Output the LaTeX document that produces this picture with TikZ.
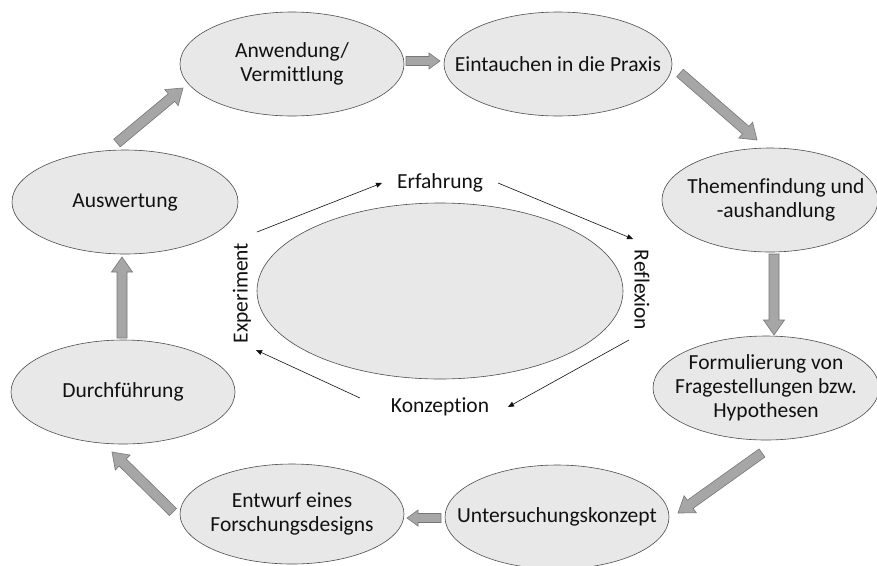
\documentclass[tikz,border=0pt]{standalone}
\usepackage{fontspec}
\setmainfont{Carlito}[Ligatures=CommonOff]
\usetikzlibrary{shapes.geometric,calc,arrows.meta}
\definecolor{efill}{HTML}{E8E8E8}
\definecolor{eline}{HTML}{4D4D4D}
\definecolor{afill}{HTML}{A6A6A6}
\definecolor{aline}{HTML}{777777}
\definecolor{txt}{HTML}{111111}
\newcommand{\blockarrow}[5]{%
  \coordinate (bah) at ($(#2)!#5!(#1)$);
  \draw[barrow] ($(#1)!#3!90:(#2)$) -- ($(bah)!#3!90:(#2)$) -- ($(bah)!#4!90:(#2)$)
    -- (#2) -- ($(bah)!#4!-90:(#2)$) -- ($(bah)!#3!-90:(#2)$) -- ($(#1)!#3!-90:(#2)$) -- cycle;
}
\begin{document}
\begin{tikzpicture}[x=1pt,y=-1pt,
  stage/.style={ellipse, draw=eline, fill=efill, line width=0.6pt, inner sep=0pt},
  lbl/.style={text=txt, align=center, font=\fontsize{21.5}{24}\selectfont, inner sep=0pt},
  barrow/.style={fill=afill, draw=aline, line width=0.6pt, line join=miter},
  thinarrow/.style={draw=txt, line width=0.6pt, -{Triangle[length=6pt,width=5pt]}}]
\path[fill=white] (0,0) rectangle (877,565);
\useasboundingbox (0,0) rectangle (877,565);
% outer stages
\node[stage, minimum width=224pt, minimum height=104pt] (s1) at (292,64) {};
\node[stage, minimum width=228pt, minimum height=104pt] (s2) at (558,64) {};
\node[stage, minimum width=216pt, minimum height=104pt] (s3) at (770,200) {};
\node[stage, minimum width=226pt, minimum height=104pt] (s4) at (766,388) {};
\node[stage, minimum width=224pt, minimum height=104pt] (s5) at (557,517) {};
\node[stage, minimum width=224pt, minimum height=100pt] (s6) at (292,514) {};
\node[stage, minimum width=224pt, minimum height=104pt] (s7) at (123,392) {};
\node[stage, minimum width=226pt, minimum height=104pt] (s8) at (125,202) {};
\node[lbl] (t1) at (s1.center) {Anwendung/\\Vermittlung};
\node[lbl] (t2) at (s2.center) {Eintauchen in die Praxis};
\node[lbl] (t3) at ([xshift=6pt]s3.center) {Themenfindung und\\-aushandlung};
\node[lbl] (t4) at (s4.center) {Formulierung von\\Fragestellungen bzw.\\Hypothesen};
\node[lbl] (t5) at (s5.center) {Untersuchungskonzept};
\node[lbl] (t6) at (s6.center) {Entwurf eines\\Forschungsdesigns};
\node[lbl] (t7) at (s7.center) {Durchführung};
\node[lbl] (t8) at (s8.center) {Auswertung};
% centre
\node[stage, minimum width=366pt, minimum height=176pt] (c) at (440,291) {};
\node[lbl] (erf) at (440,183) {Erfahrung};
\node[lbl, rotate=-90] (ref) at (642,290) {Reflexion};
\node[lbl] (kon) at (440,407) {Konzeption};
\node[lbl, rotate=90] (exp) at (242,293) {Experiment};
% thin arrows
\coordinate (i1s) at (257,232); \coordinate (i1e) at (382,183);
\coordinate (i2s) at (498,183); \coordinate (i2e) at (633,239);
\coordinate (i3s) at (629,340); \coordinate (i3e) at (508,407);
\coordinate (i4s) at (360,398); \coordinate (i4e) at (256,350);
\draw[thinarrow] (i1s) -- (i1e);
\draw[thinarrow] (i2s) -- (i2e);
\draw[thinarrow] (i3s) -- (i3e);
\draw[thinarrow] (i4s) -- (i4e);
% block arrows
\coordinate (a1s) at (117,143); \coordinate (a1e) at (183,88);
\coordinate (a2s) at (406,61);  \coordinate (a2e) at (440,61);
\coordinate (a3s) at (680,73);  \coordinate (a3e) at (757,140);
\coordinate (a4s) at (774,254); \coordinate (a4e) at (774,335);
\coordinate (a5s) at (762,453); \coordinate (a5e) at (678,513);
\coordinate (a6s) at (441,518); \coordinate (a6e) at (407,518);
\coordinate (a7s) at (173,512); \coordinate (a7e) at (112,452);
\coordinate (a8s) at (122,338); \coordinate (a8e) at (122,257);
\blockarrow{a1s}{a1e}{5pt}{10.5pt}{15pt}
\blockarrow{a2s}{a2e}{4.5pt}{8pt}{11pt}
\blockarrow{a3s}{a3e}{5pt}{10.5pt}{15pt}
\blockarrow{a4s}{a4e}{5pt}{10.5pt}{15pt}
\blockarrow{a5s}{a5e}{5pt}{10.5pt}{15pt}
\blockarrow{a6s}{a6e}{4.5pt}{8pt}{11pt}
\blockarrow{a7s}{a7e}{5pt}{10.5pt}{15pt}
\blockarrow{a8s}{a8e}{5pt}{10.5pt}{15pt}
\end{tikzpicture}
\end{document}
